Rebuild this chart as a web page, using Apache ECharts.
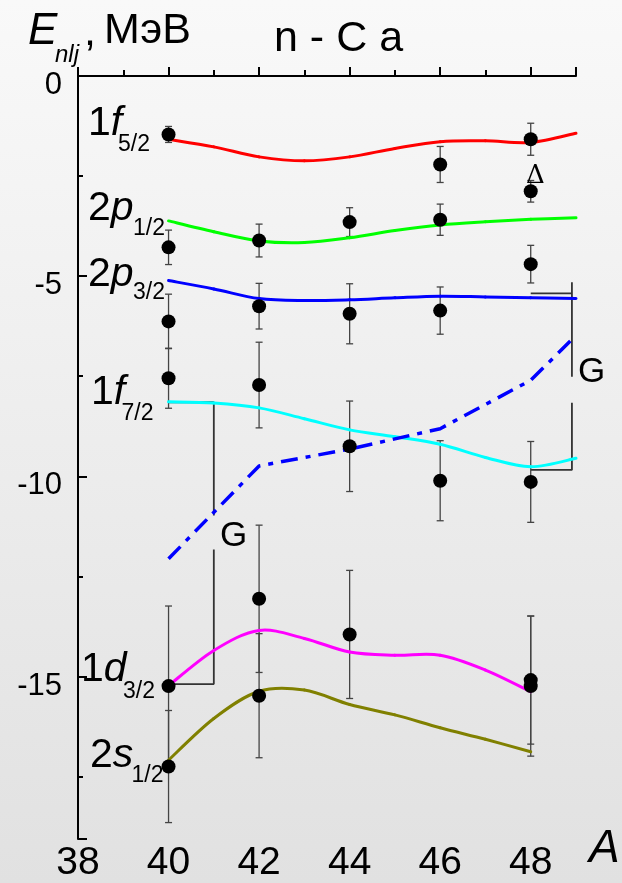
<!DOCTYPE html>
<html>
<head>
<meta charset="utf-8">
<script src="https://cdn.jsdelivr.net/npm/echarts@6/dist/echarts.min.js"></script>
<style>html,body{margin:0;padding:0;}#c{width:622px;height:883px;}</style>
</head>
<body>
<div id="c"></div>
<script>
// ---- data (A, E in MeV, error) ----
const xTicks = [38, 40, 42, 44, 46, 48];
const yTicks = [0, -5, -10, -15];
const exp1f52 = [[40, -1.46, 0.2], [46, -2.21, 0.45], [48, -1.58, 0.4]];
const expDelta = [[48, -2.88, 0.27]];
const exp2p12 = [[40, -4.28, 0.43], [42, -4.11, 0.41], [44, -3.65, 0.36], [46, -3.59, 0.39], [48, -4.70, 0.47]];
const exp2p32 = [[40, -6.13, 0.68], [42, -5.75, 0.57], [44, -5.94, 0.75], [46, -5.86, 0.59]];
const exp1f72 = [[40, -7.55, 0.75], [42, -7.72, 1.07], [44, -9.25, 1.13], [46, -10.11, 1.0], [48, -10.14, 1.01]];
const exp1d32 = [[40, -15.24, 2.0], [42, -13.06, 1.84], [44, -13.95, 1.6], [48, -15.09, 1.6]];
const exp2s12 = [[40, -17.25, 1.4], [42, -15.48, 1.55], [48, -15.24, 1.75]];

const curveA = [40, 41, 42, 43, 44, 45, 46, 47, 48, 49];
const th1f52 = [-1.58, -1.77, -2.02, -2.12, -2.02, -1.81, -1.64, -1.62, -1.66, -1.43];
const th2p12 = [-3.62, -3.89, -4.12, -4.16, -4.04, -3.86, -3.72, -3.64, -3.58, -3.54];
const th2p32 = [-5.11, -5.32, -5.56, -5.61, -5.59, -5.54, -5.50, -5.52, -5.54, -5.56];
const th1f72 = [-8.14, -8.17, -8.29, -8.56, -8.84, -9.01, -9.20, -9.53, -9.76, -9.55];
const curveA2 = [40, 41, 42, 43, 44, 45, 46, 47, 48];
const th1d32 = [-15.23, -14.35, -13.85, -14.05, -14.39, -14.47, -14.47, -14.84, -15.38];
const th2s12 = [-17.09, -16.05, -15.37, -15.34, -15.70, -15.96, -16.28, -16.57, -16.88];
const gA = [40, 42, 44, 46, 48, 49];
const gE = [-12.06, -9.74, -9.32, -8.81, -7.60, -6.48];

// G brackets
const bracketL1 = [[40, -8.15], [41, -8.15], [41, -10.98]];
const bracketL2 = [[41, -11.83], [41, -15.19], [40, -15.19]];
const bracketR1a = [[48, -5.43], [48.91, -5.43]];
const bracketR1b = [[48.91, -5.15], [48.91, -7.51]];
const bracketR2 = [[48.91, -8.16], [48.91, -9.84], [48, -9.84]];

const FONT = "'Liberation Sans', Arial, sans-serif";
const chart = echarts.init(document.getElementById('c'), null, {renderer: 'canvas'});

function zip(xs, ys) { return xs.map((x, i) => [x, ys[i]]); }
// smooth curve (Catmull-Rom through the points), each item draws its segment
function curve(xs, ys, color) {
  const P = zip(xs, ys);
  return {type: 'custom', data: P, z: 4, silent: true, encode: {x: 0, y: 1},
    renderItem: function (params, api) {
      const i = params.dataIndex;
      if (i >= P.length - 1) return null;
      const c = k => api.coord(P[Math.max(0, Math.min(P.length - 1, k))]);
      const p0 = c(i - 1), p1 = c(i), p2 = c(i + 1), p3 = c(i + 2);
      return {type: 'bezierCurve', shape: {
          x1: p1[0], y1: p1[1], x2: p2[0], y2: p2[1],
          cpx1: p1[0] + (p2[0] - p0[0]) / 6, cpy1: p1[1] + (p2[1] - p0[1]) / 6,
          cpx2: p2[0] - (p3[0] - p1[0]) / 6, cpy2: p2[1] - (p3[1] - p1[1]) / 6},
        style: {stroke: color, lineWidth: 3, fill: null, lineCap: 'round'}};
    }};
}
function bracket(d) {
  return {type: 'line', data: d, showSymbol: false, z: 2, silent: true,
    lineStyle: {color: '#333', width: 1.8}};
}
function errBars(d) {
  return {type: 'custom', data: d, z: 3, silent: true,
    encode: {x: 0, y: 1},
    renderItem: function (params, api) {
      const x = api.value(0), y = api.value(1), e = api.value(2);
      const t = api.coord([x, y + e]), b = api.coord([x, y - e]);
      const hw = 3.5, st = {stroke: '#444', lineWidth: 1.3};
      return {type: 'group', children: [
        {type: 'line', shape: {x1: t[0], y1: t[1], x2: b[0], y2: b[1]}, style: st},
        {type: 'line', shape: {x1: t[0] - hw, y1: t[1], x2: t[0] + hw, y2: t[1]}, style: st},
        {type: 'line', shape: {x1: b[0] - hw, y1: b[1], x2: b[0] + hw, y2: b[1]}, style: st}
      ]};
    }};
}
function pts(d) {
  return {type: 'scatter', data: d.map(p => [p[0], p[1]]), symbolSize: 14, z: 5, silent: true,
    itemStyle: {color: '#000', opacity: 1}};
}
function txt(x, y, s, size, italic, extra) {
  return Object.assign({type: 'text', x: x, y: y, z: 10, silent: true,
    style: {text: s, fill: '#000', font: (italic ? 'italic ' : '') + size + 'px ' + FONT,
      align: 'left', verticalAlign: 'middle'}}, extra || {});
}
function orb(x, y, n, l, sub, subX, subY) {
  return [
    {type: 'text', x: x, y: y, z: 10, silent: true,
      style: {text: '{r|' + n + '}{i|' + l + '}', align: 'left', verticalAlign: 'middle',
        rich: {r: {fontSize: 41, fontFamily: FONT, fill: '#000'},
               i: {fontSize: 41, fontFamily: FONT, fontStyle: 'italic', fill: '#000'}}}},
    txt(subX, subY, sub, 23, false)
  ];
}

const allExp = [exp1f52, expDelta, exp2p12, exp2p32, exp1f72, exp1d32, exp2s12];

const option = {
  animation: false,
  backgroundColor: {type: 'linear', x: 0, y: 0, x2: 0, y2: 1,
    colorStops: [{offset: 0, color: '#f9f9f9'}, {offset: 1, color: '#e1e1e1'}]},
  grid: {left: 78, right: 46, top: 76, bottom: 42, containLabel: false},
  xAxis: {
    type: 'value', min: 38, max: 49, interval: 2,
    axisLine: {lineStyle: {color: '#000', width: 2}},
    axisTick: {inside: true, length: 9, lineStyle: {color: '#000', width: 2}},
    minorTick: {show: true, splitNumber: 2, length: 6, lineStyle: {color: '#000', width: 2}},
    splitLine: {show: false},
    axisLabel: {color: '#000', fontSize: 39, fontFamily: FONT, margin: 5, showMaxLabel: false,
      formatter: v => (xTicks.indexOf(v) >= 0 ? String(v) : '')}
  },
  yAxis: {
    type: 'value', min: -19.06, max: 0, minInterval: 5, maxInterval: 5,
    axisLine: {lineStyle: {color: '#000', width: 2}},
    axisTick: {inside: true, length: 9, lineStyle: {color: '#000', width: 2}},
    minorTick: {show: true, splitNumber: 2, length: 5, lineStyle: {color: '#000', width: 2}},
    splitLine: {show: false},
    axisLabel: {color: '#000', fontSize: 31, fontFamily: FONT, margin: 16, showMinLabel: false,
      verticalAlign: 'top', lineHeight: 19,
      formatter: v => (yTicks.indexOf(v) >= 0 ? String(v) : '')}
  },
  graphic: [
    txt(28, 31.5, 'E', 44, true),
    txt(55, 55, 'nlj', 24, true),
    txt(84, 33, ',', 43, false),
    txt(104, 31, 'МэВ', 43, false),
    txt(274, 39, 'n - C a', 43, false),
    ...orb(88, 123.5, '1', 'f', '5/2', 118, 144.5),
    ...orb(88, 208.5, '2', 'p', '1/2', 133, 228.5),
    ...orb(88, 274.5, '2', 'p', '3/2', 133, 293),
    ...orb(91, 392.5, '1', 'f', '7/2', 121.5, 414),
    ...orb(81, 670, '1', 'd', '3/2', 123, 692),
    ...orb(90, 756, '2', 's', '1/2', 131.5, 776),
    txt(220, 536, 'G', 35, false),
    txt(578, 372, 'G', 35, false),
    txt(526, 176.5, 'Δ', 26, false, {style: {text: 'Δ', fill: '#000', font: "26px 'DejaVu Serif', 'Liberation Serif', serif", align: 'left', verticalAlign: 'middle'}}),
    txt(589, 849, 'A', 46, true)
  ],
  series: [
    bracket(bracketL1), bracket(bracketL2), bracket(bracketR1a), bracket(bracketR1b), bracket(bracketR2),
    ...allExp.map(errBars),
    curve(curveA, th1f52, '#ff0000'),
    curve(curveA, th2p12, '#00ff00'),
    curve(curveA, th2p32, '#0000ff'),
    curve(curveA, th1f72, '#00ffff'),
    curve(curveA2, th1d32, '#ff00ff'),
    curve(curveA2, th2s12, '#808000'),
    {type: 'line', data: zip(gA, gE), showSymbol: false, z: 4, silent: true,
      lineStyle: {color: '#0000ff', width: 3.5, type: [17, 8, 5, 8]}},
    ...allExp.map(pts)
  ]
};
chart.setOption(option);
</script>
</body>
</html>
